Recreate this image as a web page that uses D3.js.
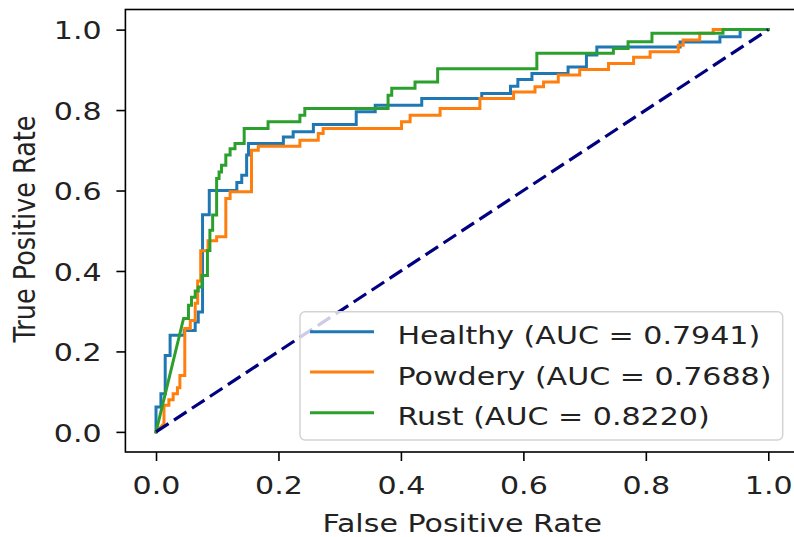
<!DOCTYPE html>
<html>
<head>
<meta charset="utf-8">
<script src="https://cdn.jsdelivr.net/npm/d3@7"></script>
<style>
  html, body { margin: 0; padding: 0; background: #fff; }
  svg { display: block; }
  text { font-family: "DejaVu Sans", sans-serif; fill: #222; }
</style>
</head>
<body>
<svg id="chart" width="794" height="537"></svg>
<script>
// ---- data ----
const tickValues = [0, 0.2, 0.4, 0.6, 0.8, 1.0];
const seriesNames = ["Healthy (AUC = 0.7941)", "Powdery (AUC = 0.7688)", "Rust (AUC = 0.8220)"];
const seriesColors = ["#1f77b4", "#ff7f0e", "#2ca02c"];
const chanceLine = [[0, 0], [1, 1]];

const healthyRoc = [[0,0],[0,0.062],[0.008,0.062],[0.008,0.095],[0.015,0.095],[0.015,0.19],[0.023,0.19],[0.023,0.24],
  [0.046,0.24],[0.046,0.252],[0.064,0.252],[0.064,0.273],[0.069,0.273],[0.069,0.298],[0.076,0.298],[0.076,0.54],
  [0.087,0.54],[0.087,0.60],[0.132,0.60],[0.132,0.62],[0.14,0.62],[0.14,0.638],[0.148,0.638],[0.148,0.688],
  [0.151,0.688],[0.151,0.717],[0.208,0.717],[0.208,0.733],[0.224,0.733],[0.224,0.746],[0.257,0.746],[0.257,0.764],
  [0.327,0.764],[0.327,0.796],[0.358,0.796],[0.358,0.812],[0.434,0.812],[0.434,0.829],[0.532,0.829],[0.532,0.841],
  [0.579,0.841],[0.579,0.859],[0.591,0.859],[0.591,0.876],[0.614,0.876],[0.614,0.891],[0.673,0.891],[0.673,0.907],
  [0.703,0.907],[0.703,0.937],[0.72,0.937],[0.72,0.957],[0.856,0.957],[0.856,0.969],[0.921,0.969],[0.921,0.982],
  [0.954,0.982],[0.954,1],[1,1]];

const powderyRoc = [[0,0],[0.013,0.02],[0.013,0.066],[0.021,0.066],[0.021,0.08],[0.028,0.08],[0.028,0.095],[0.035,0.095],
  [0.035,0.11],[0.039,0.11],[0.039,0.14],[0.047,0.14],[0.047,0.257],[0.056,0.257],[0.056,0.277],[0.064,0.277],
  [0.064,0.32],[0.068,0.32],[0.068,0.375],[0.073,0.375],[0.073,0.45],[0.085,0.45],[0.085,0.475],[0.099,0.475],
  [0.099,0.485],[0.114,0.485],[0.114,0.58],[0.121,0.58],[0.121,0.597],[0.156,0.597],[0.156,0.70],[0.167,0.70],
  [0.167,0.71],[0.235,0.71],[0.235,0.725],[0.265,0.725],[0.265,0.742],[0.273,0.742],[0.273,0.754],[0.401,0.754],
  [0.401,0.771],[0.415,0.771],[0.415,0.787],[0.464,0.787],[0.464,0.804],[0.529,0.804],[0.529,0.829],[0.584,0.829],
  [0.584,0.845],[0.619,0.845],[0.619,0.858],[0.633,0.858],[0.633,0.870],[0.657,0.870],[0.657,0.887],[0.692,0.887],
  [0.692,0.901],[0.739,0.901],[0.739,0.916],[0.78,0.916],[0.78,0.931],[0.807,0.931],[0.807,0.945],[0.853,0.945],
  [0.853,0.961],[0.861,0.961],[0.861,0.974],[0.888,0.974],[0.888,0.991],[0.91,0.991],[0.91,1],[1,1]];

const rustRoc = [[0,0],[0.045,0.282],[0.053,0.282],[0.053,0.315],[0.058,0.315],[0.058,0.335],[0.064,0.335],[0.064,0.35],
  [0.069,0.35],[0.069,0.36],[0.075,0.36],[0.075,0.389],[0.084,0.389],[0.084,0.451],[0.088,0.451],[0.088,0.501],
  [0.0925,0.501],[0.0925,0.539],[0.099,0.539],[0.099,0.63],[0.103,0.63],[0.103,0.646],[0.107,0.646],[0.107,0.663],
  [0.114,0.663],[0.114,0.688],[0.121,0.688],[0.121,0.704],[0.129,0.704],[0.129,0.717],[0.144,0.717],[0.144,0.754],
  [0.183,0.754],[0.183,0.771],[0.235,0.771],[0.235,0.787],[0.243,0.787],[0.243,0.804],[0.379,0.804],[0.379,0.837],
  [0.385,0.837],[0.385,0.854],[0.423,0.854],[0.423,0.870],[0.46,0.870],[0.46,0.903],[0.622,0.903],[0.622,0.941],
  [0.747,0.941],[0.747,0.953],[0.771,0.953],[0.771,0.97],[0.81,0.97],[0.81,0.991],[0.926,0.991],[0.926,1],[1,1]];

const seriesData = [healthyRoc, powderyRoc, rustRoc];

// ---- layout ----
const SX = 1.18;          // horizontal stretch of the reference picture
const FS = 25.5;          // font size
const plot = { left: 125.4, right: 798.9, top: 9.5, bottom: 452 };

const svg = d3.select("#chart");
const x = d3.scaleLinear().domain([-0.05, 1.05]).range([plot.left, plot.right]);
const y = d3.scaleLinear().domain([-0.05, 1.05]).range([plot.bottom, plot.top]);
const fmt = d3.format(".1f");

svg.append("defs").append("clipPath").attr("id", "plotclip")
  .append("rect").attr("x", plot.left).attr("y", plot.top)
  .attr("width", plot.right - plot.left).attr("height", plot.bottom - plot.top);

const line = d3.line().x(d => x(d[0])).y(d => y(d[1]));

const g = svg.append("g").attr("clip-path", "url(#plotclip)");
seriesData.forEach((data, i) => {
  g.append("path").datum(data)
    .attr("d", line)
    .attr("fill", "none")
    .attr("stroke", seriesColors[i])
    .attr("stroke-width", 3)
    .attr("stroke-linejoin", "miter")
    .attr("stroke-linecap", "square");
});
g.append("path").datum(chanceLine)
  .attr("d", line)
  .attr("fill", "none")
  .attr("stroke", "#000080")
  .attr("stroke-width", 3.2)
  .attr("stroke-dasharray", "15,6.5");

// ---- axes ----
const xAxis = svg.append("g").attr("transform", `translate(0,${plot.bottom})`)
  .call(d3.axisBottom(x).tickValues(tickValues).tickFormat(fmt).tickSize(9).tickSizeOuter(0));
const yAxis = svg.append("g").attr("transform", `translate(${plot.left},0)`)
  .call(d3.axisLeft(y).tickValues(tickValues).tickFormat(fmt).tickSize(9).tickSizeOuter(0));
[xAxis, yAxis].forEach(a => {
  a.select(".domain").remove();
  a.selectAll(".tick line").attr("stroke", "#000").attr("stroke-width", 1.6);
  a.selectAll(".tick text").attr("font-size", FS).attr("font-family", "DejaVu Sans").attr("fill", "#222");
});
xAxis.selectAll(".tick text").attr("y", 42).attr("dy", null).attr("transform", `scale(${SX},1)`);
yAxis.selectAll(".tick text").attr("x", -23.7 / SX).attr("dy", "0.36em").attr("transform", `scale(${SX},1)`);

// frame
svg.append("rect").attr("x", plot.left).attr("y", plot.top)
  .attr("width", plot.right - plot.left).attr("height", plot.bottom - plot.top)
  .attr("fill", "none").attr("stroke", "#000").attr("stroke-width", 1.6);

// axis labels
svg.append("text").attr("transform", `translate(${(plot.left + plot.right) / 2},532) scale(${SX},1)`)
  .attr("text-anchor", "middle").attr("font-size", FS).text("False Positive Rate");
svg.append("text").attr("transform", `translate(35,229) scale(${SX},1) rotate(-90)`)
  .attr("text-anchor", "middle").attr("font-size", FS).text("True Positive Rate");

// ---- legend ----
const leg = svg.append("g");
leg.append("rect").attr("x", 300).attr("y", 311.7).attr("width", 482.7).attr("height", 128.3)
  .attr("rx", 5).attr("ry", 5)
  .attr("fill", "rgba(255,255,255,0.8)").attr("stroke", "#d3d3d3").attr("stroke-width", 1.5);
const rowY = [331.7, 371.9, 412.7];
seriesNames.forEach((name, i) => {
  leg.append("line").attr("x1", 310).attr("x2", 374).attr("y1", rowY[i]).attr("y2", rowY[i])
    .attr("stroke", seriesColors[i]).attr("stroke-width", 3);
  leg.append("text").attr("transform", `translate(397.5,${rowY[i] + 12.7}) scale(${SX},1)`)
    .attr("font-size", FS).text(name);
});
</script>
</body>
</html>
